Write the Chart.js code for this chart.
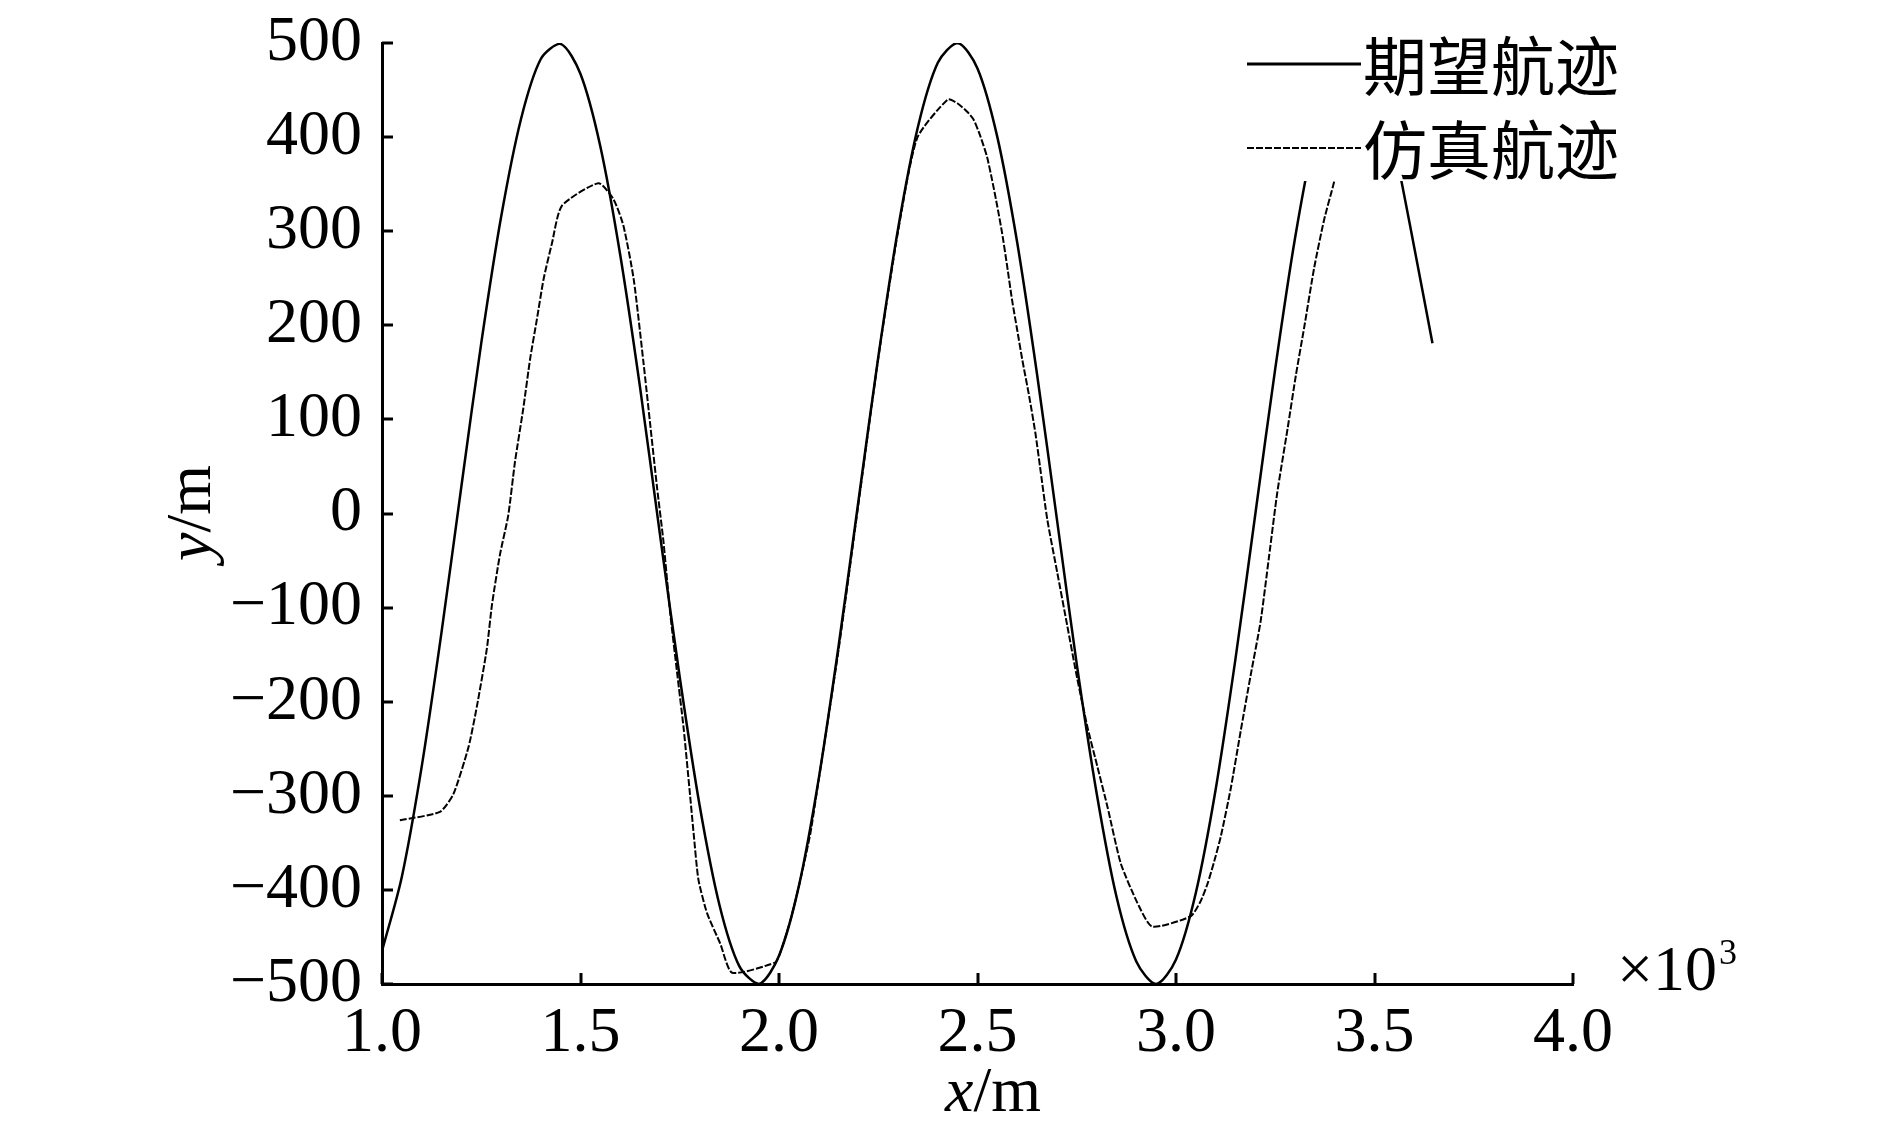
<!DOCTYPE html>
<html><head><meta charset="utf-8">
<script src="https://cdn.jsdelivr.net/npm/chart.js@4.4.1/dist/chart.umd.min.js"></script>
<style>html,body{margin:0;padding:0;background:#fff;overflow:hidden}#wrap{width:1890px;height:1134px}</style>
</head><body><div id="wrap"><canvas id="c" width="1890" height="1134"></canvas></div>
<script>
const seriesNames = ['期望航迹', '仿真航迹'];
const desiredX = [1000,1050,1100,1150,1200,1250,1300,1350,1400,1450,1500,1550,1600,1650,1700,1750,1800,1850,1900,1950,
  2000,2050,2100,2150,2200,2250,2300,2350,2400,2450,2500,2550,2600,2650,2700,2750,2800,2850,2900,2950,
  3000,3050,3100,3150,3200,3250,3300,3350,3400,3450,3500,3550,3600,3646];
const desiredY = [-465,-386,-269,-126,29,181,315,419,483,499,467,390,275,134,-22,-174,-310,-416,-481,-500,
  -470,-396,-282,-141,13,166,303,411,479,500,473,400,288,148,-6,-160,-297,-407,-476,-500,
  -474,-403,-293,-154,0,154,293,403,475,500,477,390,283,181];
const simX = [1045,1146,1180,1218,1239,1264,1277,1297,1318,1335,1356,1373,1390,1407,1428,1453,1545,1583,1608,1634,1659,1676,1693,1709,1726,1743,1760,1775,1785,1797,1819,1852,1882,
  1991,2003,2029,2054,2079,2096,2150,2200,2250,2300,2348,2425,2449,2474,2491,2508,2524,2537,2550,2562,2575,2587,2600,2613,2630,2646,2659,2676,2701,2726,2751,2777,2802,2827,2861,2903,2940,
  3037,3062,3079,3096,3113,3138,3163,3188,3213,3234,3255,3281,3302,3323,3348,3373,3398,3415];
const simY = [-326,-317,-298,-248,-205,-144,-97,-44,-2,55,112,164,206,249,287,327,351,334,306,249,159,93,27,-30,-106,-168,-229,-295,-340,-389,-425,-457,-488,
  -477,-467,-432,-389,-340,-294,-145,10,165,300,399,440,436,427,418,400,379,354,326,298,262,227,195,163,125,85,45,-7,-63,-119,-175,-227,-269,-311,-372,-414,-439,
  -428,-412,-394,-370,-343,-292,-231,-172,-115,-47,22,90,147,198,261,312,352,385];
const xTickValues = [1000,1500,2000,2500,3000,3500,4000];
const xTickLabels = ['1.0','1.5','2.0','2.5','3.0','3.5','4.0'];
const yTickValues = [-500,-400,-300,-200,-100,0,100,200,300,400,500];
const yTickLabels = ['\u2212500','\u2212400','\u2212300','\u2212200','\u2212100','0','100','200','300','400','500'];
const xAxisTitleParts = [['x', 'italic'], ['/m', 'normal']];
const yAxisTitleParts = [['y', 'italic'], ['/m', 'normal']];
const xMultiplierBase = '\u00d710';
const xMultiplierExp = '3';

const SERIF = '"Liberation Serif", "Times New Roman", serif';
const CJK = '"Noto Sans CJK SC", sans-serif';

const inwardTicks = {
  id: 'inwardTicks',
  afterDatasetsDraw(chart) {
    const {ctx, chartArea: ca, scales: {x, y}} = chart;
    ctx.save();
    ctx.strokeStyle = '#000';
    ctx.lineWidth = 3;
    x.ticks.forEach(t => {
      const px = Math.round(x.getPixelForValue(t.value));
      ctx.beginPath(); ctx.moveTo(px, ca.bottom); ctx.lineTo(px, ca.bottom - 11); ctx.stroke();
    });
    y.ticks.forEach(t => {
      const py = Math.round(y.getPixelForValue(t.value));
      ctx.beginPath(); ctx.moveTo(ca.left, py); ctx.lineTo(ca.left + 11, py); ctx.stroke();
    });
    ctx.restore();
  }
};

function drawMixed(ctx, parts, cx, cy, rot) {
  ctx.save();
  ctx.translate(cx, cy);
  ctx.rotate(rot);
  ctx.textBaseline = 'middle';
  ctx.textAlign = 'left';
  ctx.fillStyle = '#000';
  const widths = parts.map(([t, st]) => { ctx.font = st + ' 64px ' + SERIF; return ctx.measureText(t).width; });
  let x = -widths.reduce((a, b) => a + b, 0) / 2;
  parts.forEach(([t, st], i) => { ctx.font = st + ' 64px ' + SERIF; ctx.fillText(t, x, 0); x += widths[i]; });
  ctx.restore();
}

const overlay = {
  id: 'overlay',
  afterDatasetsDraw(chart) {
    const {ctx, chartArea: ca} = chart;
    ctx.save();
    // legend box (white, no border) drawn on top of the data
    ctx.fillStyle = '#fff';
    ctx.fillRect(1240, 0, 470, 181);
    const rows = [64, 148];
    chart.data.datasets.forEach((ds, i) => {
      ctx.strokeStyle = '#000';
      ctx.lineWidth = i === 0 ? 3 : 2;
      ctx.setLineDash(ds.borderDash || []);
      ctx.beginPath(); ctx.moveTo(1247, rows[i]); ctx.lineTo(1361, rows[i]); ctx.stroke();
      ctx.setLineDash([]);
      ctx.fillStyle = '#000';
      ctx.font = '64px ' + CJK;
      ctx.textBaseline = 'middle';
      ctx.textAlign = 'left';
      ctx.fillText(ds.label, 1363, rows[i] + 2);
    });
    // x multiplier
    ctx.fillStyle = '#000';
    ctx.textBaseline = 'alphabetic';
    ctx.font = '64px ' + SERIF;
    const bx = ca.right + 44;
    ctx.fillText(xMultiplierBase, bx, 990);
    const w = ctx.measureText(xMultiplierBase).width;
    ctx.font = '36px ' + SERIF;
    ctx.fillText(xMultiplierExp, bx + w + 2, 964);
    ctx.restore();
    // axis titles (italic variable, upright unit)
    drawMixed(ctx, xAxisTitleParts, 993, 1094, 0);
    drawMixed(ctx, yAxisTitleParts, 193, 513, -Math.PI / 2);
  }
};

const ctx = document.getElementById('c').getContext('2d');
new Chart(ctx, {
  type: 'line',
  data: {
    datasets: [
      {
        label: seriesNames[0],
        data: desiredX.map((v, i) => ({x: v, y: desiredY[i]})),
        borderColor: '#000', borderWidth: 2.5, pointRadius: 0, tension: 0.3, fill: false
      },
      {
        label: seriesNames[1],
        data: simX.map((v, i) => ({x: v, y: simY[i]})),
        borderColor: '#000', borderWidth: 2, borderDash: [7, 2], pointRadius: 0, tension: 0.2, fill: false
      }
    ]
  },
  options: {
    responsive: false,
    animation: false,
    devicePixelRatio: 1,
    layout: {padding: {left: 0, top: 43, right: 317, bottom: 0}},
    plugins: {legend: {display: false}, tooltip: {enabled: false}},
    scales: {
      x: {
        type: 'linear', position: 'bottom', min: 1000, max: 4000,
        afterBuildTicks: s => { s.ticks = xTickValues.map(v => ({value: v})); },
        afterFit: s => { s.height = 150; s.paddingLeft = 0; s.paddingRight = 0; },
        ticks: {
          callback: v => xTickLabels[xTickValues.indexOf(v)],
          font: {family: SERIF, size: 64}, color: '#000', padding: 12,
          maxRotation: 0, autoSkip: false
        },
        grid: {display: true, drawOnChartArea: false, drawTicks: false},
        border: {display: true, color: '#000', width: 3},
        title: {display: false}
      },
      y: {
        type: 'linear', position: 'left', min: -500, max: 500,
        afterBuildTicks: s => { s.ticks = yTickValues.map(v => ({value: v})); },
        afterFit: s => { s.width = 382; s.paddingTop = 0; s.paddingBottom = 0; },
        ticks: {
          callback: v => yTickLabels[yTickValues.indexOf(v)],
          font: {family: SERIF, size: 64}, color: '#000', padding: 20, autoSkip: false
        },
        grid: {display: true, drawOnChartArea: false, drawTicks: false},
        border: {display: true, color: '#000', width: 3},
        title: {display: false}
      }
    }
  },
  plugins: [inwardTicks, overlay]
});
</script>
</body></html>
